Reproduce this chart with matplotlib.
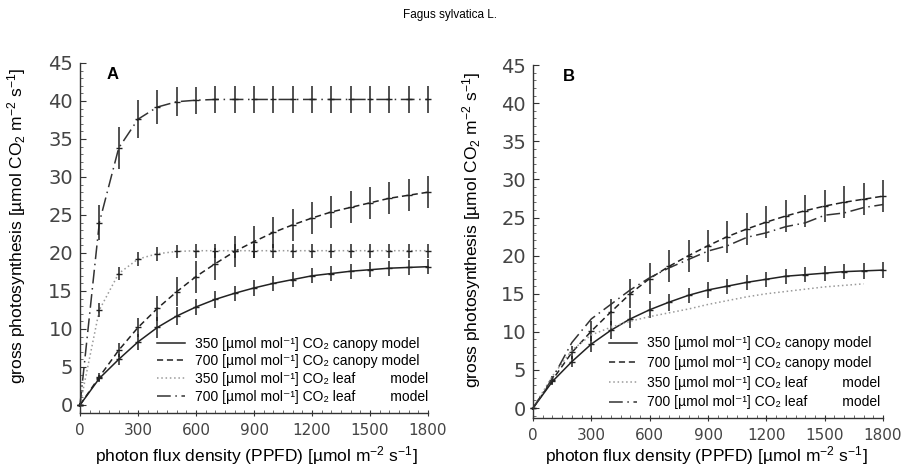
import numpy as np
import matplotlib
matplotlib.use("Agg")
import matplotlib.pyplot as plt
from matplotlib.ticker import MultipleLocator

plt.rcParams['font.family'] = ['Liberation Sans', 'DejaVu Sans']
plt.rcParams['mathtext.fontset'] = 'custom'
plt.rcParams['mathtext.rm'] = 'Liberation Sans'
plt.rcParams['mathtext.it'] = 'Liberation Sans:italic'

# photon flux density (PPFD)
ppfd = [0, 100, 200, 300, 400, 500, 600, 700, 800, 900,
        1000, 1100, 1200, 1300, 1400, 1500, 1600, 1700, 1800]

# panel A
a_c350 = [0, 3.5, 6.0, 8.3, 10.2, 11.7, 12.9, 13.9, 14.7, 15.4,
          16.0, 16.5, 17.0, 17.3, 17.6, 17.8, 18.0, 18.1, 18.2]
a_c350_err = [0.2, 0.5, 0.7, 1.0, 1.4, 1.2, 1.1, 1.1, 1.0, 1.0,
              1.0, 1.0, 1.0, 1.0, 1.0, 1.0, 1.0, 1.0, 1.0]
a_c700 = [0, 3.7, 7.2, 10.2, 12.7, 14.9, 16.9, 18.6, 20.2, 21.5,
          22.7, 23.7, 24.6, 25.4, 26.0, 26.6, 27.2, 27.6, 28.0]
a_c700_err = [0.2, 0.5, 0.9, 1.3, 1.7, 1.9, 2.1, 2.1, 2.1, 2.1,
              2.1, 2.1, 2.1, 2.1, 2.1, 2.1, 2.1, 2.1, 2.1]
a_l350 = [0, 12.5, 17.3, 19.2, 19.9, 20.2, 20.3, 20.3, 20.3, 20.3,
          20.3, 20.3, 20.3, 20.3, 20.3, 20.3, 20.3, 20.3, 20.3]
a_l350_err = [0.2, 0.9, 0.9, 0.9, 0.9, 0.9, 0.9, 0.9, 0.9, 0.9,
              0.9, 0.9, 0.9, 0.9, 0.9, 0.9, 0.9, 0.9, 0.9]
a_l700 = [0, 24.0, 33.8, 37.6, 39.2, 39.9, 40.1, 40.2, 40.2, 40.2,
          40.2, 40.2, 40.2, 40.2, 40.2, 40.2, 40.2, 40.2, 40.2]
a_l700_err = [0.3, 2.3, 2.8, 2.5, 2.2, 1.9, 1.8, 1.8, 1.8, 1.8,
              1.8, 1.8, 1.8, 1.8, 1.8, 1.8, 1.8, 1.8, 1.8]

# panel B
b_c350 = [0, 3.5, 6.1, 8.4, 10.2, 11.7, 12.9, 13.9, 14.8, 15.5,
          16.0, 16.5, 16.9, 17.3, 17.5, 17.7, 17.9, 18.0, 18.1]
b_c350_err = [0.2, 0.5, 0.7, 1.0, 1.2, 1.2, 1.1, 1.1, 1.0, 1.0,
              1.0, 1.0, 1.0, 1.0, 1.0, 1.0, 1.0, 1.0, 1.0]
b_c700 = [0, 3.7, 7.3, 10.1, 12.6, 15.0, 17.0, 18.6, 20.0, 21.3,
          22.5, 23.5, 24.4, 25.2, 25.9, 26.5, 27.0, 27.4, 27.8]
b_c700_err = [0.2, 0.5, 0.9, 1.3, 1.7, 1.9, 2.0, 2.1, 2.1, 2.1,
              2.1, 2.1, 2.1, 2.1, 2.1, 2.1, 2.1, 2.1, 2.1]
b_l350_x = ppfd[:-1]
b_l350 = [0, 4.2, 7.6, 9.6, 10.6, 11.4, 12.0, 12.5, 13.0, 13.6,
          14.1, 14.6, 15.0, 15.3, 15.6, 15.9, 16.1, 16.3]
b_l700 = [0, 3.9, 8.6, 11.7, 13.6, 15.5, 17.1, 18.4, 19.5, 20.6,
          21.3, 22.4, 23.0, 23.8, 24.3, 25.3, 25.6, 26.3, 26.7]

labels = ['350 [µmol mol⁻¹] CO₂ canopy model',
          '700 [µmol mol⁻¹] CO₂ canopy model',
          '350 [µmol mol⁻¹] CO₂ leaf         model',
          '700 [µmol mol⁻¹] CO₂ leaf         model']

sty_c350 = dict(color='#222222', lw=1.1, ls='-')
sty_c700 = dict(color='#222222', lw=1.1, dashes=(4, 2.5))
sty_l350 = dict(color='#9a9a9a', lw=1.1, dashes=(1, 1.8))
sty_l700 = dict(color='#333333', lw=1.1, dashes=(9, 3, 1, 3))

fig = plt.figure(figsize=(9.04, 4.76), dpi=100)
axA = fig.add_axes([0.0885, 0.1332, 0.385, 0.7393])
axB = fig.add_axes([0.5896, 0.1218, 0.3872, 0.7464])


def series(ax, x, y, err, sty, label):
    ax.plot(x, y, label=label, clip_on=False, **sty)
    if err is not None:
        ax.errorbar(x, y, yerr=err, fmt='none', ecolor='#222222',
                    elinewidth=1.1, capsize=0, clip_on=False)
        ax.plot(x, y, ls='none', marker='_', ms=5, mew=1.0,
                color='#222222', clip_on=False)


series(axA, ppfd, a_c350, a_c350_err, sty_c350, labels[0])
series(axA, ppfd, a_c700, a_c700_err, sty_c700, labels[1])
series(axA, ppfd, a_l350, a_l350_err, sty_l350, labels[2])
series(axA, ppfd, a_l700, a_l700_err, sty_l700, labels[3])

series(axB, ppfd, b_c350, b_c350_err, sty_c350, labels[0])
series(axB, ppfd, b_c700, b_c700_err, sty_c700, labels[1])
series(axB, b_l350_x, b_l350, None, sty_l350, labels[2])
series(axB, ppfd, b_l700, None, sty_l700, labels[3])

panels = [(axA, 'A', -1.0, -0.149, -0.089, 0.506, (1.0, 0.025), 0.075, 0.27),
          (axB, 'B', -1.3, -0.143, -0.073, 0.494, (0.991, 0.024), 0.085, 0.41)]

for ax, letter, ylo, ylx, xly, xlx, legpos, letx, lsp in panels:
    ax.set_xlim(0, 1800)
    ax.set_ylim(ylo, 45.3)
    ax.spines['top'].set_visible(False)
    ax.spines['right'].set_visible(False)
    ax.spines['left'].set_bounds(ylo, 45)
    for s in ('left', 'bottom'):
        ax.spines[s].set_linewidth(1.0)
        ax.spines[s].set_color('#333333')
    ax.xaxis.set_major_locator(MultipleLocator(300))
    ax.xaxis.set_minor_locator(MultipleLocator(50))
    ax.yaxis.set_major_locator(MultipleLocator(5))
    ax.yaxis.set_minor_locator(MultipleLocator(1))
    ax.tick_params(axis='y', which='major', direction='in', length=4,
                   labelsize=14, pad=5, colors='#333333')
    ax.tick_params(axis='x', which='major', direction='inout', length=5,
                   labelsize=11, pad=5, colors='#333333')
    ax.tick_params(which='minor', direction='in', length=2, colors='#555555')
    for t in ax.get_xticklabels() + ax.get_yticklabels():
        t.set_fontfamily('DejaVu Sans')
        t.set_color('#444444')
    ax.set_xlabel('photon flux density (PPFD) [µmol m$^{-2}$ s$^{-1}$]',
                  fontsize=12.5)
    ax.xaxis.set_label_coords(xlx, xly)
    ax.set_ylabel('gross photosynthesis [µmol CO$_2$ m$^{-2}$ s$^{-1}$]',
                  fontsize=12.5)
    ax.yaxis.set_label_coords(ylx, 0.53)
    ax.text(letx, 0.96, letter, transform=ax.transAxes, fontsize=12,
            fontweight='bold', va='center')
    ax.legend(loc='lower right', bbox_to_anchor=legpos, frameon=False,
              fontsize=10.0, handlelength=2.0, handletextpad=0.7,
              labelspacing=lsp, borderpad=0, borderaxespad=0)

fig.text(0.498, 0.968, 'Fagus sylvatica L.', ha='center', va='center',
         fontsize=8.5)

fig.savefig('out.png', dpi=100)
